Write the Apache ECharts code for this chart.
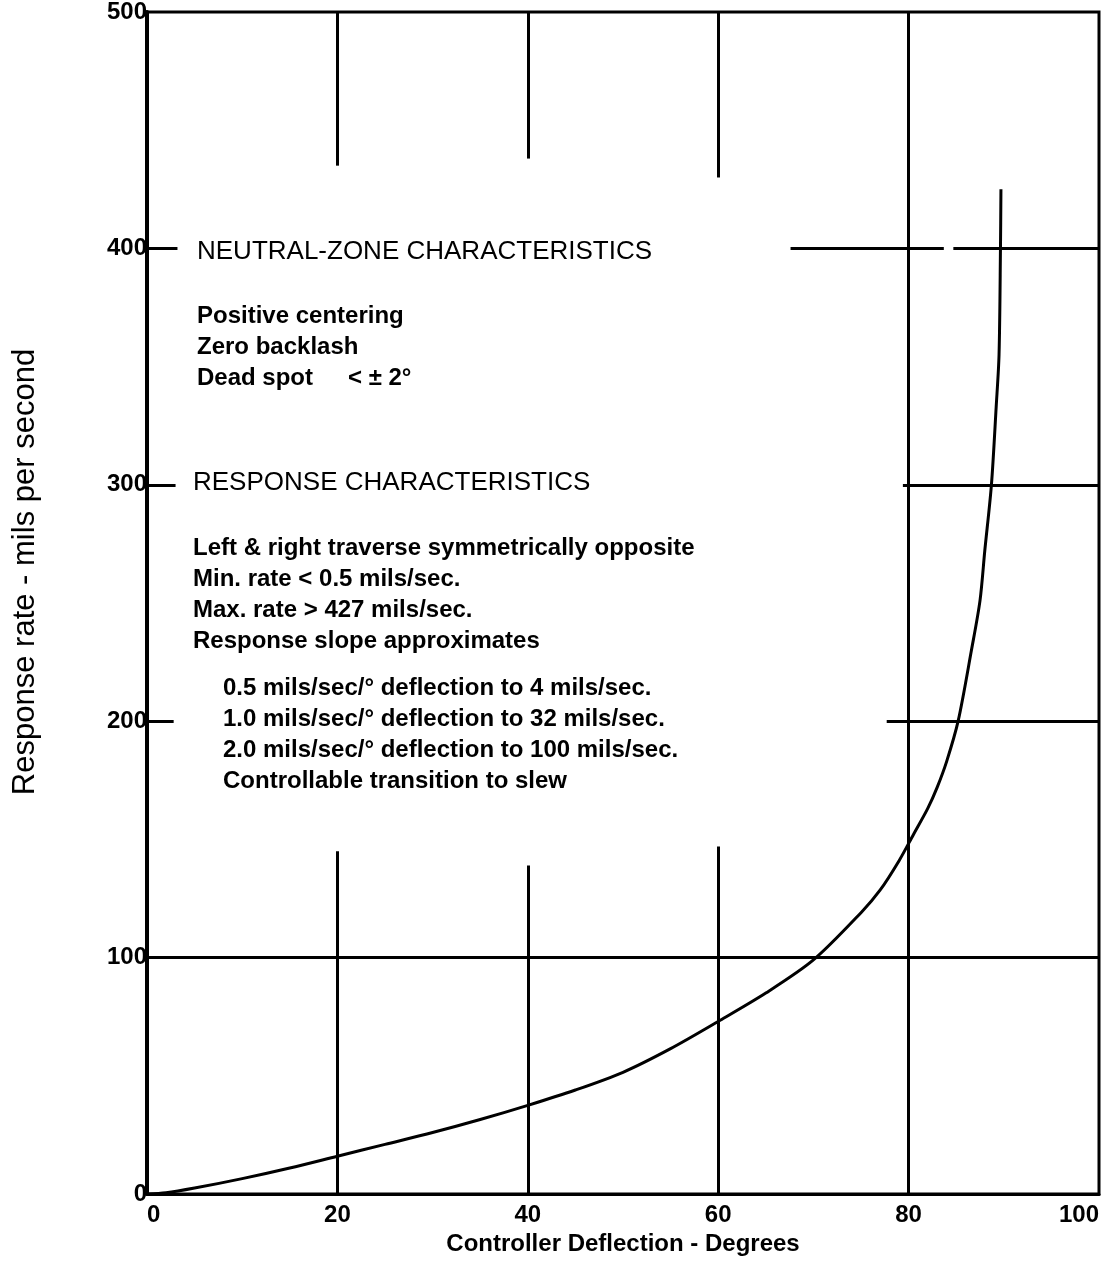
<!DOCTYPE html>
<html>
<head>
<meta charset="utf-8">
<script src="https://cdn.jsdelivr.net/npm/echarts@6/dist/echarts.min.js"></script>
<style>
  html, body { margin: 0; padding: 0; background: #fff; }
  #chart { width: 1115px; height: 1262px; }
</style>
</head>
<body>
<div id="chart"></div>
<script>
// response curve
const deflection = [0, 2, 5, 10, 15, 20, 25, 30, 35, 40, 45, 50, 55, 60, 65, 70, 75, 77, 79, 80.5, 82, 83, 84, 85.2, 86.6, 87.5, 88, 88.7, 89.2, 89.5, 89.65, 89.7];
const rate = [0, 0.5, 2.5, 6.5, 11, 16, 21, 26, 31.5, 37.5, 44, 51.5, 61.5, 73, 85, 99, 119, 128.5, 141, 152, 163, 172, 183, 200, 230, 251, 272, 300, 333, 355, 400, 425];

// broken grid lines: [x, yFrom, yTo] and [y, xFrom, xTo]
const vGrid = [[20, 435, 500], [20, 0, 145], [40, 438, 500], [40, 0, 139], [60, 430, 500], [60, 0, 147], [80, 0, 500]];
const hGrid = [[400, 0, 3.2], [400, 67.6, 83.7], [400, 84.7, 100], [300, 0, 3], [300, 79.4, 100], [200, 0, 2.8], [200, 77.7, 100], [100, 0, 100]];

const xTicks = [0, 20, 40, 60, 80, 100];
const yTicks = [0, 100, 200, 300, 400, 500];

const neutralTitle = 'NEUTRAL-ZONE CHARACTERISTICS';
const neutralLines = ['Positive centering', 'Zero backlash', 'Dead spot'];
const responseTitle = 'RESPONSE CHARACTERISTICS';
const responseLines = ['Left & right traverse symmetrically opposite', 'Min. rate < 0.5 mils/sec.', 'Max. rate > 427 mils/sec.', 'Response slope approximates'];
const slopeLines = ['0.5 mils/sec/\u00b0 deflection to 4 mils/sec.', '1.0 mils/sec/\u00b0 deflection to 32 mils/sec.', '2.0 mils/sec/\u00b0 deflection to 100 mils/sec.', 'Controllable transition to slew'];

const FONT = '"Liberation Sans", Arial, Helvetica, sans-serif';

const chart = echarts.init(document.getElementById('chart'));

const gridLines = [];
vGrid.forEach(s => gridLines.push([{ coord: [s[0], s[1]] }, { coord: [s[0], s[2]] }]));
hGrid.forEach(s => gridLines.push([{ coord: [s[1], s[0]] }, { coord: [s[2], s[0]] }]));

function textEl(text, x, y, size, weight) {
  return {
    type: 'text',
    x: x,
    y: y,
    style: {
      text: text,
      fill: '#000',
      font: (weight || 'normal') + ' ' + size + 'px ' + FONT,
      textVerticalAlign: 'middle'
    }
  };
}

const texts = [];
// section titles are lighter than the body lines in the original
texts.push(textEl(neutralTitle, 197, 252, 26));
neutralLines.forEach((t, i) => texts.push(textEl(t, 197, 316 + i * 31, 24, 'bold')));
texts.push(textEl('< \u00b1 2\u00b0', 348, 378, 24, 'bold'));
texts.push(textEl(responseTitle, 193, 483, 26));
responseLines.forEach((t, i) => texts.push(textEl(t, 193, 548 + i * 31, 24, 'bold')));
slopeLines.forEach((t, i) => texts.push(textEl(t, 223, 688 + i * 31, 24, 'bold')));
texts.push({
  type: 'text',
  x: 25,
  y: 572,
  rotation: Math.PI / 2,
  style: {
    text: 'Response rate - mils per second',
    fill: '#000',
    font: 'normal 31px ' + FONT,
    textAlign: 'center',
    textVerticalAlign: 'middle'
  }
});

const option = {
  animation: false,
  backgroundColor: '#fff',
  grid: {
    left: 147,
    right: 16,
    top: 12,
    bottom: 68,
    outerBoundsMode: 'none',
    containLabel: false,
    show: true,
    borderColor: '#000',
    borderWidth: 3
  },
  xAxis: {
    type: 'value',
    min: 0,
    max: 100,
    interval: 20,
    name: 'Controller Deflection - Degrees',
    nameLocation: 'middle',
    nameGap: 32,
    nameTextStyle: { color: '#000', fontSize: 24, fontWeight: 'bold', fontFamily: FONT },
    axisLine: { show: true, lineStyle: { color: '#000', width: 3 } },
    axisTick: { show: false },
    splitLine: { show: false },
    axisLabel: {
      color: '#000',
      fontSize: 24,
      fontWeight: 'bold',
      fontFamily: FONT,
      margin: 9,
      alignMinLabel: 'left',
      alignMaxLabel: 'right',
      customValues: xTicks
    }
  },
  yAxis: {
    type: 'value',
    min: 0,
    max: 500,
    interval: 100,
    axisLine: { show: true, lineStyle: { color: '#000', width: 4 } },
    axisTick: { show: false },
    splitLine: { show: false },
    axisLabel: {
      color: '#000',
      fontSize: 24,
      fontWeight: 'bold',
      fontFamily: FONT,
      margin: 0,
      customValues: yTicks
    }
  },
  graphic: texts,
  series: [
    {
      type: 'line',
      data: [],
      silent: true,
      markLine: {
        silent: true,
        symbol: ['none', 'none'],
        label: { show: false },
        lineStyle: { color: '#000', width: 3, type: 'solid' },
        emphasis: { disabled: true },
        data: gridLines
      }
    },
    {
      type: 'line',
      data: deflection.map((x, i) => [x, rate[i]]),
      showSymbol: false,
      smooth: 0.3,
      lineStyle: { color: '#000', width: 3 },
      silent: true
    }
  ]
};

chart.setOption(option);
</script>
</body>
</html>
